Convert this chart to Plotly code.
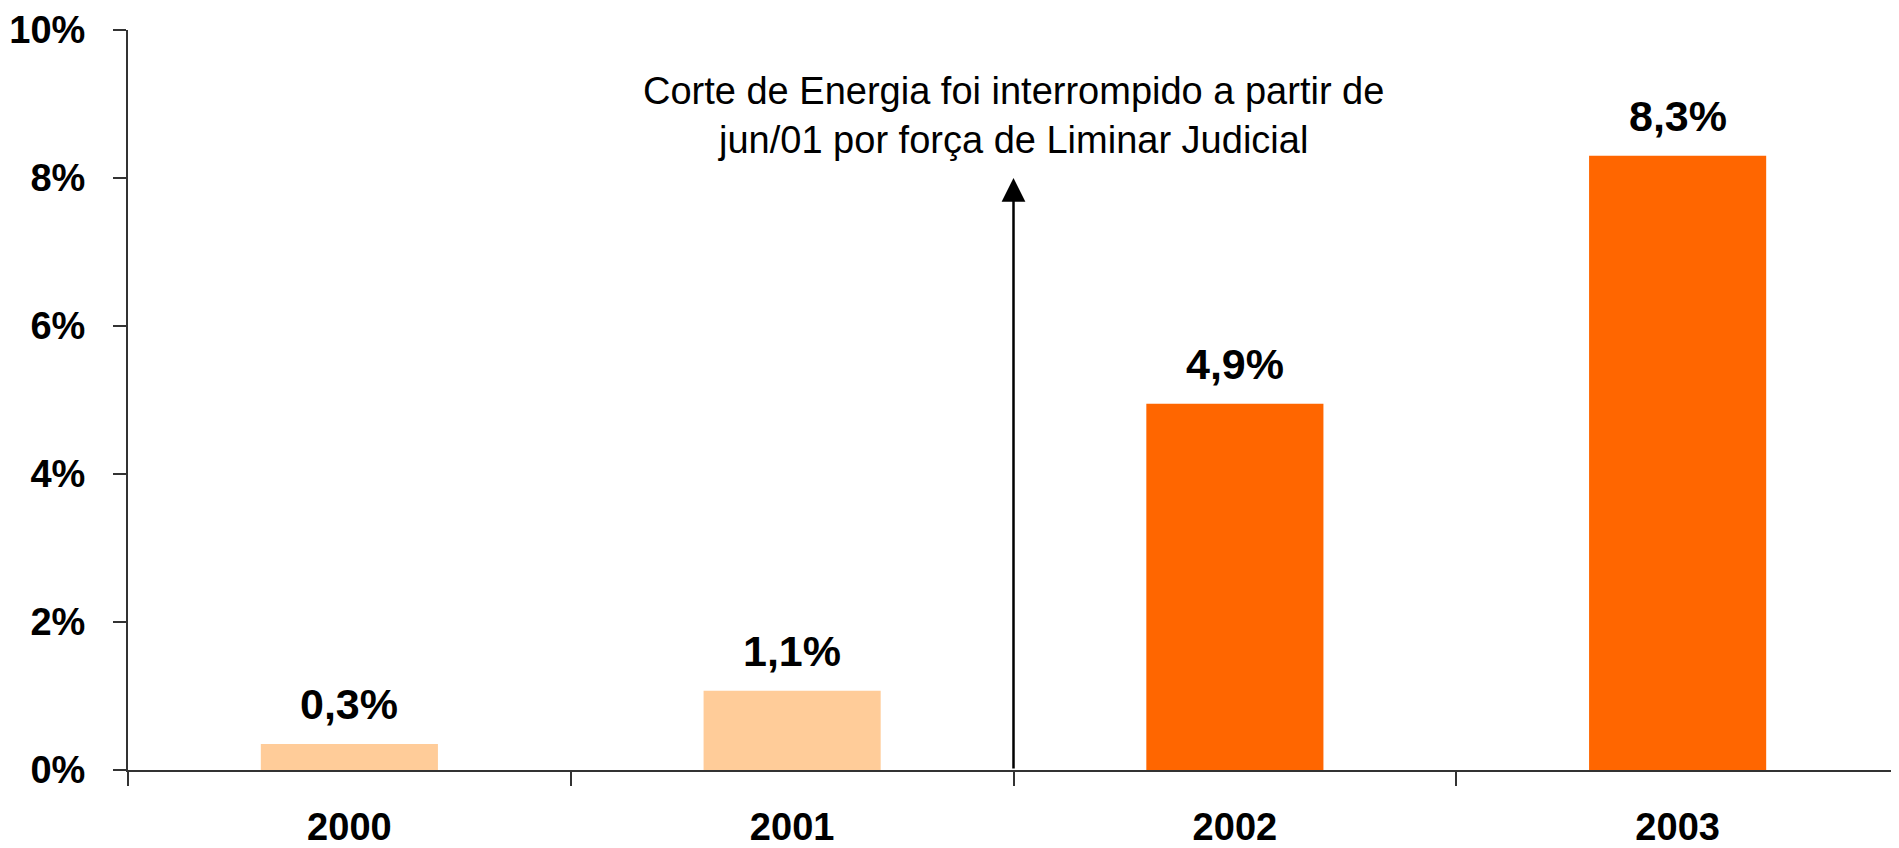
import plotly.graph_objects as go

# Data
years = ["2000", "2001", "2002", "2003"]
values = [0.35, 1.07, 4.95, 8.3]
value_labels = ["0,3%", "1,1%", "4,9%", "8,3%"]
bar_colors = ["#FFCC99", "#FFCC99", "#FF6600", "#FF6600"]
y_ticks = [0, 2, 4, 6, 8, 10]
y_tick_labels = ["0%", "2%", "4%", "6%", "8%", "10%"]
note_text = "Corte de Energia foi interrompido a partir de<br>jun/01 por força de Liminar Judicial"
arrow_x = 1.5      # boundary between 2001 and 2002
arrow_tip_y = 8.0
note_y = 8.85

FONT = "Liberation Sans, Arial, sans-serif"

fig = go.Figure()
fig.add_trace(go.Bar(
    x=years, y=values,
    marker=dict(color=bar_colors, line=dict(width=0)),
    hoverinfo="skip",
))

for i, (v, lab) in enumerate(zip(values, value_labels)):
    fig.add_annotation(
        x=i, y=v, text="<b>%s</b>" % lab, showarrow=False,
        xref="x", yref="y",
        yanchor="middle", yshift=40,
        font=dict(family=FONT, size=43, color="black"),
    )

fig.add_annotation(
    x=arrow_x, y=note_y, text=note_text, showarrow=False,
    xref="x", yref="y",
    xanchor="center", yanchor="middle",
    font=dict(family=FONT, size=38, color="black"),
)

fig.add_annotation(
    x=arrow_x, y=arrow_tip_y, ax=arrow_x, ay=0,
    xref="x", yref="y", axref="x", ayref="y",
    text="", showarrow=True,
    arrowhead=2, arrowsize=1.9, arrowwidth=2.5, arrowcolor="black",
)

fig.update_layout(
    width=1899, height=848,
    margin=dict(l=120, r=8, t=22, b=86),
    paper_bgcolor="white", plot_bgcolor="white",
    bargap=0.6,
    showlegend=False,
    font=dict(family=FONT, color="black"),
)
fig.update_xaxes(
    type="category", range=[-0.5, 3.5], automargin=False,
    tickson="boundaries", ticks="outside", ticklen=14, tickwidth=2, tickcolor="#333",
    showline=True, linecolor="#333", linewidth=2,
    showgrid=False, zeroline=False,
    tickfont=dict(family=FONT, size=38, color="black", weight="bold"),
    ticklabelstandoff=22,
)
fig.update_yaxes(
    range=[0, 10], tickvals=y_ticks, ticktext=y_tick_labels, automargin=False,
    ticks="outside", ticklen=13, tickwidth=2, tickcolor="#333",
    showline=True, linecolor="#333", linewidth=2,
    showgrid=False, zeroline=False,
    tickfont=dict(family=FONT, size=38, color="black", weight="bold"),
    ticklabelstandoff=20,
)

fig.write_html("out.html")
